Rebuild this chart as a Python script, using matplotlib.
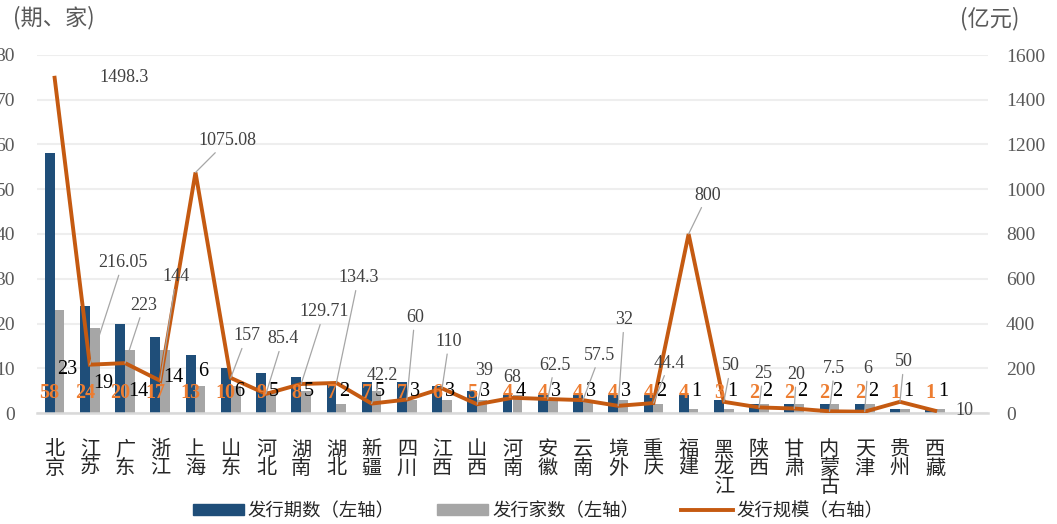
import matplotlib
matplotlib.use('Agg')
import matplotlib.pyplot as plt
from matplotlib.patches import Patch
from matplotlib.lines import Line2D
import numpy as np

categories = ['北京', '江苏', '广东', '浙江', '上海', '山东', '河北', '湖南', '湖北', '新疆',
              '四川', '江西', '山西', '河南', '安徽', '云南', '境外', '重庆', '福建', '黑龙江',
              '陕西', '甘肃', '内蒙古', '天津', '贵州', '西藏']
periods = [58, 24, 20, 17, 13, 10, 9, 8, 7, 7, 7, 6, 5, 4, 4, 4, 4, 4, 4, 3, 2, 2, 2, 2, 1, 1]
companies = [23, 19, 14, 14, 6, 6, 5, 5, 2, 5, 3, 3, 3, 4, 3, 3, 3, 2, 1, 1, 2, 2, 2, 2, 1, 1]
scale = [1498.3, 216.05, 223, 144, 1075.08, 157, 85.4, 129.71, 134.3, 42.2, 60, 110, 39, 68,
         62.5, 57.5, 32, 44.4, 800, 50, 25, 20, 7.5, 6, 50, 10]
scale_labels = ['1498.3', '216.05', '223', '144', '1075.08', '157', '85.4', '129.71', '134.3',
                '42.2', '60', '110', '39', '68', '62.5', '57.5', '32', '44.4', '800', '50',
                '25', '20', '7.5', '6', '50', '10']

# layout: label offsets in pixels (dx, dy up)
scale_off = [(69, 0), (33, 102), (19, 58), (16, 104), (32, 32), (16, 42), (17, 55), (23, 72),
             (22, 105), (11, 28), (8, 82), (7, 47), (7, 34), (0, 20), (7, 34), (17, 45),
             (6, 86), (16, 40), (19, 39), (7, 36), (4, 34), (2, 34), (5, 43), (3, 43),
             (4, 40), (29, 0)]
comp_dy = [43, 30, 22, 35, 41] + [21] * 21

BLUE = '#1F4E79'
GRAY = '#A6A6A6'
ORANGE = '#C55A11'
LBL_OR = '#ED7D31'
TXT = '#595959'
SERIF = 'Liberation Serif'
CJK = ['Noto Sans CJK SC', 'DejaVu Sans']

W, H = 1057, 524
fig = plt.figure(figsize=(W / 100, H / 100), dpi=100)
ax = fig.add_axes([37 / W, 1 - 413 / H, (988 - 37) / W, (413 - 55) / H])
ax2 = ax.twinx()

x = np.arange(len(categories))
bw = 0.28
ax.bar(x - bw / 2, periods, bw, color=BLUE, zorder=2)
ax.bar(x + bw / 2, companies, bw, color=GRAY, zorder=2)

ax.set_xlim(-0.5, len(categories) + 0.5)
ax.set_ylim(0, 80)
ax.set_yticks(np.arange(0, 81, 10))
ax2.set_ylim(0, 1600)
ax2.set_yticks(np.arange(0, 1601, 200))

ax.grid(axis='y', color='#EEEEEE', lw=1.5, zorder=0)
ax.set_axisbelow(True)
for a in (ax, ax2):
    for s in a.spines.values():
        s.set_visible(False)
ax.spines['bottom'].set_visible(True)
ax.spines['bottom'].set_color('#D9D9D9')
ax.spines['bottom'].set_linewidth(1.8)

ax.tick_params(axis='y', length=0, pad=16, labelsize=14, labelcolor=TXT)
ax2.tick_params(axis='y', length=0, pad=13, labelsize=14, labelcolor=TXT)
for lab in ax.get_yticklabels() + ax2.get_yticklabels():
    lab.set_fontfamily(SERIF)

ax.set_xticks(x)
ax.set_xticklabels(['\n'.join(c) for c in categories], fontfamily=CJK, fontsize=14.5,
                   color='#262626', linespacing=0.84, va='top')
ax.tick_params(axis='x', length=0, pad=19)

ax2.plot(x, scale, color=ORANGE, lw=2.8, zorder=3, solid_joinstyle='miter')

for i in range(len(categories)):
    ax2.annotate(str(periods[i]), xy=(x[i] - bw / 2, 0), xytext=(0, 20),
                 textcoords='offset pixels', ha='center', va='center',
                 fontfamily=SERIF, fontsize=14.5, fontweight='bold', color=LBL_OR, zorder=5)
    ax2.annotate(str(companies[i]), xy=(x[i] + bw / 2, 0), xytext=(-2, comp_dy[i]),
                 textcoords='offset pixels', ha='left', va='center',
                 fontfamily=SERIF, fontsize=14.5, color='#000000', zorder=5)
    dx, dy = scale_off[i]
    ap = dict(arrowstyle='-', color='#A6A6A6', lw=0.9, shrinkA=1, shrinkB=0) if dy >= 25 else None
    ax2.annotate(scale_labels[i], xy=(x[i], scale[i]), xytext=(dx, dy),
                 textcoords='offset pixels', ha='center', va='center',
                 fontfamily=SERIF, fontsize=13, color='#404040', zorder=6,
                 arrowprops=ap)

fig.text(13 / W, 1 - 18 / H, '(期、家)', fontfamily=CJK, fontsize=16, color=TXT,
         ha='left', va='center')
fig.text(960 / W, 1 - 19 / H, '(亿元)', fontfamily=CJK, fontsize=16, color=TXT,
         ha='left', va='center')

handles = [Patch(color=BLUE), Patch(color=GRAY), Line2D([], [], color=ORANGE, lw=2.8)]
labels = ['发行期数（左轴）', '发行家数（左轴）', '发行规模（右轴）']
fig.legend(handles, labels, loc='center', bbox_to_anchor=(538 / W, 1 - 511 / H), ncol=3,
           frameon=False, prop={'family': CJK, 'size': 13.2}, handlelength=2.8,
           handleheight=0.6, handletextpad=0.2, columnspacing=2.3, labelcolor='#262626')

fig.savefig('out.png', dpi=100)
